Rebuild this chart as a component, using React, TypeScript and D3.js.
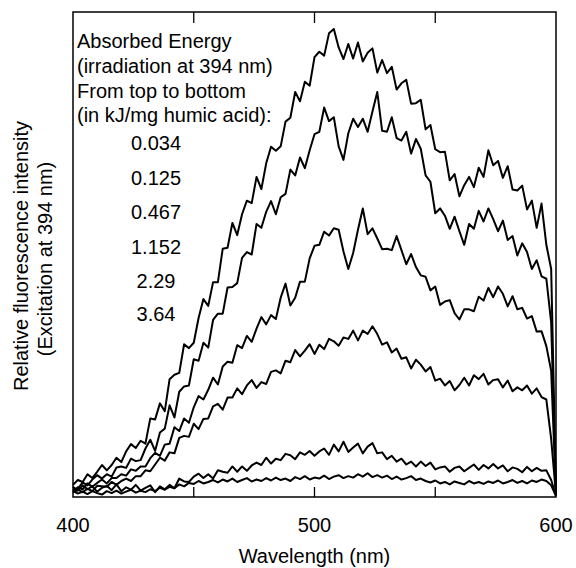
import React from "react";
import * as d3 from "d3";

// Wavelength grid (nm), 2 nm steps from 400 to 600
const wavelengths: number[] = d3.range(400, 601, 2);

// Series values (relative fluorescence intensity, arbitrary units), top to bottom
const s0034 = [2.5,3.5,3.1,4.7,3.9,5.2,6.6,5.5,6.6,8.1,7.2,9.4,10.9,10.1,11.6,11.0,16.2,16.0,19.3,17.7,24.3,25.2,25.6,31.5,30.7,31.8,36.9,40.8,39.4,44.3,44.3,51.2,51.4,56.5,54.0,58.3,61.1,60.6,66.0,63.5,68.8,72.2,71.4,72.3,77.4,78.2,83.5,81.6,85.6,84.8,90.7,91.8,91.0,95.6,96.5,92.7,90.3,93.4,90.4,93.7,89.8,91.6,92.5,87.5,90.1,87.4,88.7,84.0,85.3,86.0,81.1,81.2,81.9,75.8,76.7,71.7,71.1,71.2,65.3,66.6,62.0,64.3,66.0,63.9,67.9,66.0,71.5,68.4,69.3,65.8,68.2,63.4,63.2,64.2,59.3,61.1,55.5,60.5,52.0,47.0,1.0];
const s0125 = [1.5,1.7,3.0,2.4,3.6,4.5,3.8,4.7,4.2,6.1,6.3,6.0,7.9,7.4,7.6,10.0,11.8,9.5,13.3,14.1,18.9,16.4,21.7,22.8,23.0,28.4,28.1,31.8,30.8,36.5,37.8,37.8,43.2,43.3,44.1,49.3,50.5,50.0,56.3,55.5,58.8,61.0,58.3,61.8,62.5,67.5,66.3,70.0,67.8,71.5,74.8,75.3,80.3,77.5,78.3,72.3,69.5,75.0,78.0,76.3,78.0,75.3,79.5,83.5,75.5,75.3,78.3,74.0,73.5,75.3,70.8,73.8,71.8,66.3,65.0,58.5,59.5,58.0,55.3,57.8,54.8,52.0,56.3,55.3,59.0,56.8,59.5,57.3,54.8,57.0,53.0,53.8,49.8,52.3,50.5,47.0,48.8,45.5,45.0,36.0,0.8];
const s0467 = [1.3,2.0,1.6,2.8,2.1,2.9,3.6,2.8,3.9,3.9,4.7,4.4,5.7,5.4,6.3,6.3,8.0,9.1,8.5,10.8,11.0,14.4,13.6,16.2,15.3,18.5,20.8,20.1,22.1,24.6,23.2,26.9,27.9,27.7,31.3,30.7,33.2,32.0,34.7,37.1,35.6,37.5,36.7,41.1,44.0,39.5,41.1,44.4,44.4,49.2,51.8,52.0,54.7,53.9,55.4,55.1,50.6,47.0,50.3,55.1,59.5,54.2,55.4,53.3,51.1,51.2,50.9,53.8,50.9,48.0,50.1,47.4,45.7,45.4,42.6,43.4,39.6,40.3,40.6,37.9,36.6,38.7,38.7,38.3,41.3,40.5,43.1,41.2,43.4,41.9,39.3,41.4,38.7,39.0,36.8,37.3,34.1,34.2,31.1,26.0,0.6];
const s1152 = [0.9,1.5,1.0,1.7,1.2,2.3,2.2,2.1,3.1,2.5,3.3,3.8,3.3,4.3,4.3,5.5,5.3,6.7,8.1,7.5,9.2,9.0,12.2,12.6,12.4,15.1,14.0,16.1,16.2,18.7,19.2,18.0,20.5,20.5,22.4,21.2,23.0,24.1,22.5,23.7,23.3,25.8,26.1,25.5,28.1,27.8,30.3,29.0,30.2,31.5,29.5,31.4,30.5,32.6,32.1,31.2,32.9,32.6,34.3,32.3,34.3,33.6,35.2,33.6,31.4,31.9,29.8,30.6,28.5,28.8,26.5,28.3,27.3,25.9,26.8,24.0,24.4,23.0,23.9,22.0,23.1,24.6,23.0,25.1,24.3,25.4,23.2,24.1,24.3,22.6,24.0,21.8,22.6,22.0,23.0,21.3,22.4,20.6,20.1,12.0,0.4];
const s229 = [2.1,1.3,2.4,1.6,2.2,1.1,1.9,2.3,1.4,2.6,1.2,2.0,1.5,2.5,1.3,1.9,2.4,1.0,2.2,1.6,2.5,1.8,3.8,3.2,3.1,4.2,4.8,3.9,4.7,3.8,5.5,5.2,5.0,6.3,5.2,6.3,5.4,6.5,7.1,6.6,8.1,6.9,7.9,7.6,8.9,8.6,7.8,9.2,8.7,9.5,8.5,9.4,10.0,8.7,10.8,9.4,11.4,9.3,10.2,11.0,9.0,10.4,11.1,9.0,9.2,7.8,8.5,7.3,7.9,6.7,7.3,6.3,7.3,6.4,7.1,5.7,6.1,6.3,5.2,6.0,6.3,5.3,6.0,6.7,5.6,6.6,5.9,6.8,5.9,6.5,5.3,6.1,5.8,5.1,6.2,5.3,6.0,5.4,5.5,3.5,0.2];
const s364 = [1.3,0.7,1.1,0.6,1.2,0.8,0.5,1.2,0.8,1.3,0.7,1.1,1.5,0.9,1.3,1.0,1.6,1.2,1.9,1.5,2.1,1.8,2.6,2.2,2.9,2.7,3.3,2.8,3.1,3.5,3.0,3.6,3.2,3.8,3.1,3.5,3.9,3.2,3.6,3.3,3.9,3.4,4.0,3.5,3.8,3.3,4.1,3.7,4.3,3.6,4.0,3.8,4.4,3.7,4.2,4.5,3.9,4.3,4.0,4.7,4.2,4.9,4.1,4.5,4.0,4.4,3.7,4.2,3.6,3.9,4.3,3.5,3.8,3.3,3.0,3.4,2.8,3.1,2.6,3.2,2.9,2.6,3.3,2.8,3.1,2.7,3.2,2.9,3.4,2.8,3.1,3.5,2.9,3.3,2.8,3.4,3.1,3.6,3.3,2.4,0.2];

const seriesList = [s0034, s0125, s0467, s1152, s229, s364];

// Legend text
const legendHeader = [
  "Absorbed Energy",
  "(irradiation at 394 nm)",
  "From top to bottom",
  "(in kJ/mg humic acid):",
];
const legendValues = ["0.034", "0.125", "0.467", "1.152", "2.29", "3.64"];

const xTickValues = [400, 450, 500, 550, 600];
const xTickLabels = [400, 500, 600];

const W = 576;
const H = 568;
const left = 73;
const right = 556;
const top = 12;
const bottom = 497;
const FONT = "'Liberation Sans', Arial, Helvetica, sans-serif";

export default function App() {
  const x = d3.scaleLinear().domain([400, 600]).range([left, right]);
  const y = d3.scaleLinear().domain([0, 100]).range([bottom, top]);
  const line = d3
    .line<number>()
    .defined((_, i) => i < wavelengths.length)
    .x((_, i) => x(wavelengths[i]))
    .y((d) => y(d));

  const headerBaselines = [48, 73, 97.5, 122];
  const valueBaselines = [150, 184.5, 219, 253.5, 288, 321];

  return (
    <svg
      width={W}
      height={H}
      style={{ position: "absolute", left: 0, top: 0, background: "#fff" }}
      fontFamily={FONT}
    >
      <rect x={0} y={0} width={W} height={H} fill="#fff" />
      <g>
        {seriesList.map((s, i) => (
          <path
            key={i}
            d={line(s) || ""}
            fill="none"
            stroke="#000"
            strokeWidth={2}
            strokeLinejoin="round"
          />
        ))}
      </g>
      <rect
        x={left}
        y={top}
        width={right - left}
        height={bottom - top}
        fill="none"
        stroke="#000"
        strokeWidth={1.5}
      />
      {xTickValues
        .filter((t) => t !== 400 && t !== 600)
        .map((t) => (
          <g key={t}>
            <line x1={x(t)} x2={x(t)} y1={bottom} y2={bottom - 10} stroke="#000" strokeWidth={1.3} />
            <line x1={x(t)} x2={x(t)} y1={top} y2={top + 11} stroke="#000" strokeWidth={1.3} />
          </g>
        ))}
      {xTickLabels.map((t) => (
        <text key={t} x={x(t)} y={532} fontSize={20} textAnchor="middle" fill="#000">
          {t}
        </text>
      ))}
      <text x={(left + right) / 2} y={563} fontSize={20} textAnchor="middle" fill="#000">
        Wavelength (nm)
      </text>
      <g transform="translate(28,256) rotate(-90)">
        <text x={0} y={0} fontSize={20} textAnchor="middle" fill="#000">
          Relative fluorescence intensity
        </text>
      </g>
      <g transform="translate(52,259) rotate(-90)">
        <text x={0} y={0} fontSize={20} textAnchor="middle" fill="#000">
          (Excitation at 394 nm)
        </text>
      </g>
      {legendHeader.map((t, i) => (
        <text key={t} x={77} y={headerBaselines[i]} fontSize={20} fill="#000">
          {t}
        </text>
      ))}
      {legendValues.map((t, i) => (
        <text key={t} x={156} y={valueBaselines[i]} fontSize={20} textAnchor="middle" fill="#000">
          {t}
        </text>
      ))}
    </svg>
  );
}
